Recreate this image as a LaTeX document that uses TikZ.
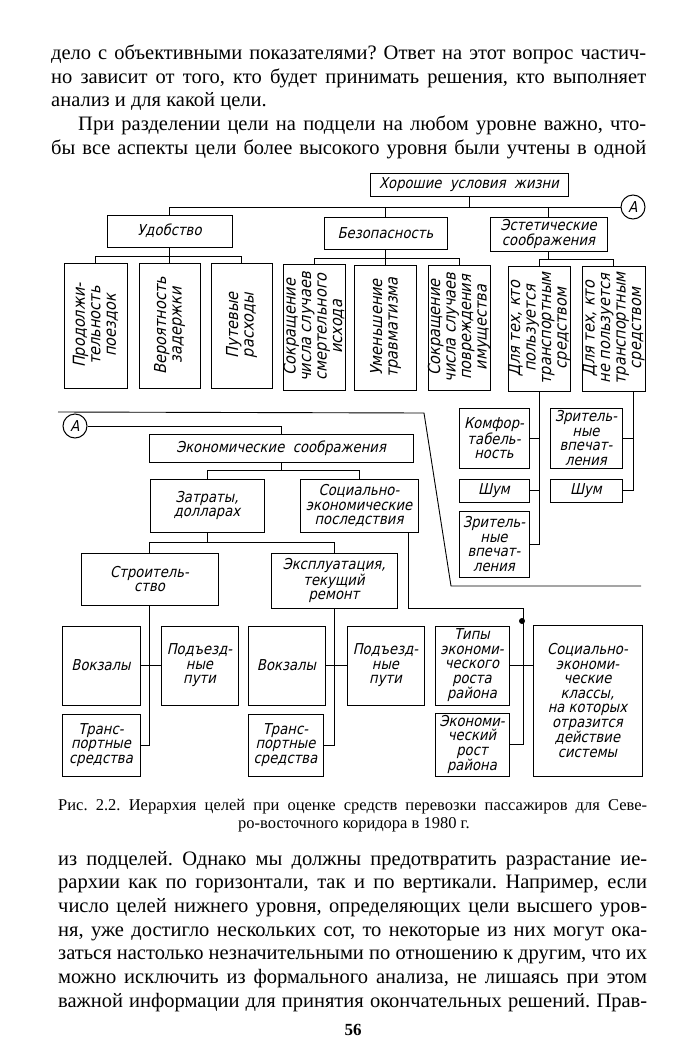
\documentclass[tikz,border=0pt]{standalone}
\usepackage{fontspec}
\setmainfont{Liberation Serif}
\newfontfamily\gostfont{DejaVu Sans}[FakeSlant=0.22,FakeStretch=0.88]
\usetikzlibrary{calc}
\frenchspacing
\begin{document}
\begin{tikzpicture}[x=1pt,y=-1pt,
  box/.style={draw, line width=1pt, inner sep=0pt, align=center, font=\gostfont\fontsize{15pt}{14.5pt}\selectfont},
  rot/.style={rotate=90, align=center, inner sep=0pt, font=\gostfont\fontsize{16.5pt}{15.5pt}\selectfont},
  conn/.style={line width=0.9pt},
  ring/.style={circle, draw, line width=1pt, minimum size=24pt, inner sep=0pt, font=\gostfont\fontsize{15pt}{15pt}\selectfont},
  txt/.style={anchor=base west, inner sep=0pt, font=\fontsize{20.5pt}{24pt}\selectfont},
  captxt/.style={anchor=base west, inner sep=0pt, font=\fontsize{16.5pt}{18pt}\selectfont}]
\useasboundingbox (0,0) rectangle (700,1060);
\fill[white] (0,0) rectangle (700,1060);

% top text
\node[txt] (t1) at (51,59) {\makebox[595pt][s]{дело с объективными показателями? Ответ на этот вопрос частич-}};
\node[txt] (t2) at (51,83) {\makebox[595pt][s]{но зависит от того, кто будет принимать решения, кто выполняет}};
\node[txt] (t3) at (51,106.5) {анализ и для какой цели.};
\node[txt] (t4) at (78,130) {\makebox[568pt][s]{При разделении цели на подцели на любом уровне важно, что-}};
\node[txt] (t5) at (51,154) {\makebox[595pt][s]{бы все аспекты цели более высокого уровня были учтены в одной}};

% level 1-2
\node[box, minimum width=198pt, minimum height=23pt] (top) at (469,184.5) {Хорошие \ условия \ жизни};
\node[ring] (A1) at (633,207) {A};
\node[box, minimum width=125pt, minimum height=32pt] (udob) at (169.5,231) {Удобство};
\node[box, minimum width=123pt, minimum height=32pt] (bez) at (385.5,233) {Безопасность};
\node[box, minimum width=117pt, minimum height=34pt] (est) at (548.5,234) {Эстетические\\соображения};

% rotated boxes
\node[box, minimum width=63pt, minimum height=125pt] (r1) at (95.5,325.5) {};
\node[rot] (r1t) at (r1.center) {Продолжи-\\тельность\\поездок};
\node[box, minimum width=61pt, minimum height=125pt] (r2) at (169.5,325.5) {};
\node[rot] (r2t) at (r2.center) {Вероятность\\задержки};
\node[box, minimum width=61pt, minimum height=125pt] (r3) at (241.5,325.5) {};
\node[rot] (r3t) at (r3.center) {Путевые\\расходы};
\node[box, minimum width=62pt, minimum height=126pt] (r4) at (314,327) {};
\node[rot] (r4t) at (r4.center) {Сокращение\\числа случаев\\смертельного\\исхода};
\node[box, minimum width=62pt, minimum height=125pt] (r5) at (385.5,327.5) {};
\node[rot] (r5t) at (r5.center) {Уменьшение\\травматизма};
\node[box, minimum width=62pt, minimum height=125pt] (r6) at (459,327.5) {};
\node[rot] (r6t) at (r6.center) {Сокращение\\числа случаев\\повреждения\\имущества};
\node[box, minimum width=62pt, minimum height=125pt] (r7) at (539,328.5) {};
\node[rot] (r7t) at (r7.center) {Для тех, кто\\пользуется\\транспортным\\средством};
\node[box, minimum width=63pt, minimum height=125pt] (r8) at (613.5,328.5) {};
\node[rot] (r8t) at (r8.center) {Для тех, кто\\не пользуется\\транспортным\\средством};

% aesthetic sub-boxes
\node[box, minimum width=70pt, minimum height=60pt] (km) at (494,438) {Комфор-\\табель-\\ность};
\node[box, minimum width=70pt, minimum height=23pt] (sh1) at (494,490.5) {Шум};
\node[box, minimum width=70pt, minimum height=66pt] (zr1) at (494,544) {Зритель-\\ные\\впечат-\\ления};
\node[box, minimum width=72pt, minimum height=60pt] (zr2) at (586,438) {Зритель-\\ные\\впечат-\\ления};
\node[box, minimum width=72pt, minimum height=23pt] (sh2) at (586,490.5) {Шум};

% economic part
\node[ring] (A2) at (75,426) {A};
\node[box, minimum width=264pt, minimum height=28pt] (eko) at (281,448) {Экономические \ соображения};
\node[box, minimum width=114pt, minimum height=53pt] (zat) at (207,505.5) {Затраты,\\долларах};
\node[box, minimum width=118pt, minimum height=53pt] (soc) at (359,505.5) {Социально-\\экономические\\последствия};
\node[box, minimum width=137pt, minimum height=52pt] (str) at (149.5,579) {Строитель-\\ство};
\node[box, minimum width=126pt, minimum height=55pt] (eks) at (334,580.5) {Эксплуатация,\\текущий\\ремонт};
\node[box, minimum width=78pt, minimum height=79pt] (vk1) at (101,665.5) {Вокзалы};
\node[box, minimum width=77pt, minimum height=79pt] (pd1) at (199.5,665.5) {Подъезд-\\ные\\пути};
\node[box, minimum width=78pt, minimum height=62pt] (tr1) at (101,745) {Транс-\\портные\\средства};
\node[box, minimum width=77pt, minimum height=79pt] (vk2) at (286.5,665.5) {Вокзалы};
\node[box, minimum width=77pt, minimum height=79pt] (pd2) at (385.5,665.5) {Подъезд-\\ные\\пути};
\node[box, minimum width=75pt, minimum height=62pt] (tr2) at (285.5,745) {Транс-\\портные\\средства};
\node[box, minimum width=74pt, minimum height=79pt] (tip) at (472,665.5) {Типы\\экономи-\\ческого\\роста\\района};
\node[box, minimum width=74pt, minimum height=63pt] (er) at (472,744.5) {Экономи-\\ческий\\рост\\района};
\node[box, minimum width=109pt, minimum height=151pt] (skl) at (587.5,700.5) {Социально-\\экономи-\\ческие\\классы,\\на которых\\отразится\\действие\\системы};

% connectors top
\coordinate (L1) at (0,207);
\draw[conn] (top.south) -- (top.south |- L1);
\draw[conn] (udob.north) -- (udob.north |- L1) -- (A1.west);
\draw[conn] (bez.north) -- (bez.north |- L1);
\draw[conn] (est.north) -- (est.north |- L1);
\coordinate (L2) at (0,256);
\draw[conn] (udob.south) -- (r2.north);
\draw[conn] (r1.north) -- (r1.north |- L2) -- (r3.north |- L2) -- (r3.north);
\coordinate (L3) at (0,258);
\draw[conn] (bez.south) -- (r5.north);
\draw[conn] (r4.north) -- (r4.north |- L3) -- (r6.north |- L3) -- (r6.north);
\coordinate (L4) at (0,259);
\draw[conn] (est.south) -- (est.south |- L4);
\draw[conn] (r7.north) -- (r7.north |- L4) -- (r8.north |- L4) -- (r8.north);
\draw[conn] (r7.south) |- (zr1.east);
\draw[conn] (km.east) -- (km.east -| r7.south);
\draw[conn] (sh1.east) -- (sh1.east -| r7.south);
\coordinate (r8d) at ([xshift=-12pt]r8.south east);
\draw[conn] (r8d) |- (sh2.east);
\draw[conn] (zr2.east) -- (zr2.east -| r8d);

% long line
\coordinate (g1) at (58,412);
\coordinate (g2) at (424,413);
\coordinate (g3) at (451,586);
\coordinate (g4) at (641,586);
\draw[conn] (g1) -- (g2) -- (g3) -- (g4);

% connectors economic
\draw[conn] (A2.east) -| (eko.north);
\coordinate (L5) at (0,470);
\draw[conn] (eko.south) -- (eko.south |- L5);
\draw[conn] (zat.north) -- (zat.north |- L5) -- (soc.north |- L5) -- (soc.north);
\coordinate (L6) at (0,542);
\draw[conn] (zat.south) -- (zat.south |- L6);
\draw[conn] (str.north) -- (str.north |- L6) -- (eks.north |- L6) -- (eks.north);
\draw[conn] (str.south) |- (tr1.east);
\draw[conn] (vk1.east) -- (pd1.west);
\draw[conn] (eks.south) |- (tr2.east);
\draw[conn] (vk2.east) -- (pd2.west);
\coordinate (s0) at ([xshift=-10pt]soc.south east);
\coordinate (s1) at (523,608);
\draw[conn] (s0) |- (s1) |- (er.east);
\draw[conn] (tip.east) -- (tip.east -| skl.west);
\fill (522,621) circle (3pt);

% caption
\node[captxt] (c1) at (58,810) {\makebox[589pt][s]{Рис. 2.2. Иерархия целей при оценке средств перевозки пассажиров для Севе-}};
\node[anchor=base, inner sep=0pt, font=\fontsize{16.5pt}{18pt}\selectfont] (c2) at (354,828) {ро-восточного коридора в 1980 г.};

% bottom text
\node[txt] (b1) at (58,865) {\makebox[589pt][s]{из подцелей. Однако мы должны предотвратить разрастание ие-}};
\node[txt] (b2) at (58,888.7) {\makebox[589pt][s]{рархии как по горизонтали, так и по вертикали. Например, если}};
\node[txt] (b3) at (58,912.4) {\makebox[589pt][s]{число целей нижнего уровня, определяющих цели высшего уров-}};
\node[txt] (b4) at (58,936.1) {\makebox[589pt][s]{ня, уже достигло нескольких сот, то некоторые из них могут ока-}};
\node[txt] (b5) at (58,959.8) {\makebox[589pt][s]{заться настолько незначительными по отношению к другим, что их}};
\node[txt] (b6) at (58,983.5) {\makebox[589pt][s]{можно исключить из формального анализа, не лишаясь при этом}};
\node[txt] (b7) at (58,1007.2) {\makebox[589pt][s]{важной информации для принятия окончательных решений. Прав-}};
\node[anchor=base, inner sep=0pt, font=\bfseries\fontsize{17pt}{20pt}\selectfont] (pg) at (353,1035) {56};
\end{tikzpicture}
\end{document}
